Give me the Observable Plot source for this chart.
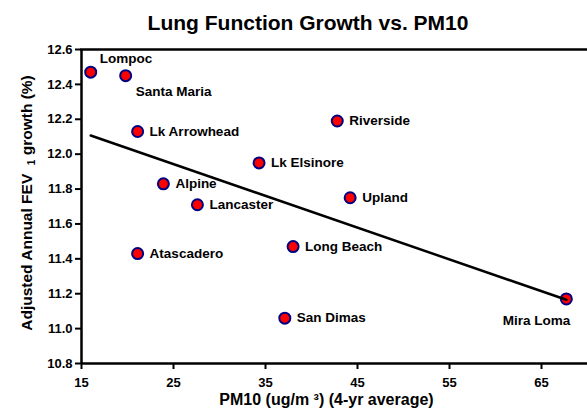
<!DOCTYPE html>
<html>
<head>
<meta charset="utf-8">
<script src="https://cdn.jsdelivr.net/npm/d3@7"></script>
<script src="https://cdn.jsdelivr.net/npm/@observablehq/plot@0.6"></script>
<style>
  body { margin: 0; background: #fff; font-family: "Liberation Sans", Arial, sans-serif; }
  #wrap { width: 587px; height: 415px; position: relative; overflow: hidden; }
  #title { height: 40px; line-height: 46px; font-size: 21px; font-weight: bold; text-align: center; padding-left: 29px; box-sizing: border-box; color: #000; }
  #chart svg { display: block; }
</style>
</head>
<body>
<div id="wrap">
  <div id="title">Lung Function Growth vs. PM10</div>
  <div id="chart"></div>
</div>
<script>
const sites = ["Lompoc", "Santa Maria", "Lk Arrowhead", "Alpine", "Lk Elsinore", "Riverside", "Upland", "Lancaster", "Atascadero", "Long Beach", "San Dimas", "Mira Loma"];
const pm10 = [16.0, 19.8, 21.1, 23.9, 34.3, 42.8, 44.2, 27.6, 21.1, 38.0, 37.1, 67.7];
const fevGrowth = [12.47, 12.45, 12.13, 11.83, 11.95, 12.19, 11.75, 11.71, 11.43, 11.47, 11.06, 11.17];
const xTicks = [15, 25, 35, 45, 55, 65];
const yTicks = [10.8, 11.0, 11.2, 11.4, 11.6, 11.8, 12.0, 12.2, 12.4, 12.6];
const xLabel = "PM10 (ug/m \u00B3) (4-yr average)";

const data = sites.map((s, i) => ({site: s, pm: pm10[i], fev: fevGrowth[i]}));
const above = new Set(["Lompoc"]);
const below = new Set(["Santa Maria"]);
const endAnchored = new Set(["Mira Loma"]);
const normal = data.filter(d => !above.has(d.site) && !below.has(d.site) && !endAnchored.has(d.site));

const font = {fontFamily: "Liberation Sans, Arial, sans-serif", fontWeight: "bold", fill: "#000"};
const lblSize = 13.5;
const yMin = yTicks[0], yMax = yTicks[yTicks.length - 1];

const chart = Plot.plot({
  width: 587,
  height: 375,
  marginLeft: 81,
  marginRight: 0,
  marginTop: 9,
  marginBottom: 52,
  style: {fontFamily: "Liberation Sans, Arial, sans-serif", fontWeight: "bold", fontSize: "13px", color: "#000", background: "#fff", overflow: "visible"},
  x: {domain: [15, 70]},
  y: {domain: [yMin, yMax]},
  marks: [
    Plot.axisX({ticks: xTicks, tickSize: 6, tickPadding: 8, tickFormat: d3.format("d"), label: null, fontSize: 13, fontWeight: "bold", strokeWidth: 2}),
    Plot.axisY({ticks: yTicks, tickSize: 6, tickPadding: 3, tickFormat: d3.format(".1f"), label: null, fontSize: 13, fontWeight: "bold", strokeWidth: 2}),
    Plot.ruleY([yMin], {stroke: "#000", strokeWidth: 2.5}),
    Plot.frame({anchor: "top", stroke: "#000", strokeWidth: 2.5}),
    Plot.ruleX([15], {stroke: "#000", strokeWidth: 2.5}),
    Plot.dot(data, {x: "pm", y: "fev", r: 5.5, fill: "#ff0000", stroke: "#000080", strokeWidth: 2}),
    Plot.linearRegressionY(data, {x: "pm", y: "fev", stroke: "#000", strokeWidth: 2.5, ci: 0}),
    Plot.text(normal, {x: "pm", y: "fev", text: "site", textAnchor: "start", dx: 12, fontSize: lblSize, ...font}),
    Plot.text(data.filter(d => above.has(d.site)), {x: "pm", y: "fev", text: "site", textAnchor: "start", dx: 9, dy: -14, fontSize: lblSize, ...font}),
    Plot.text(data.filter(d => below.has(d.site)), {x: "pm", y: "fev", text: "site", textAnchor: "start", dx: 10, dy: 16, fontSize: lblSize, ...font}),
    Plot.text(data.filter(d => endAnchored.has(d.site)), {x: "pm", y: "fev", text: "site", textAnchor: "end", dx: 4, dy: 22, fontSize: lblSize, ...font}),
    Plot.text([xLabel], {frameAnchor: "bottom", dx: -8, dy: 41, fontSize: 16, ...font})
  ]
});
document.getElementById("chart").appendChild(chart);

const svg = d3.select(chart);
const yl = svg.append("text")
  .attr("transform", "translate(28,163) rotate(-90)")
  .attr("text-anchor", "middle")
  .attr("dominant-baseline", "middle")
  .attr("font-family", "Liberation Sans, Arial, sans-serif")
  .attr("font-weight", "bold")
  .attr("font-size", 15.5)
  .attr("fill", "#000");
yl.append("tspan").text("Adjusted Annual FEV  ");
yl.append("tspan").attr("font-size", 10).attr("dy", 4).text("1");
yl.append("tspan").attr("dy", -4).text(" growth (%)");
</script>
</body>
</html>
